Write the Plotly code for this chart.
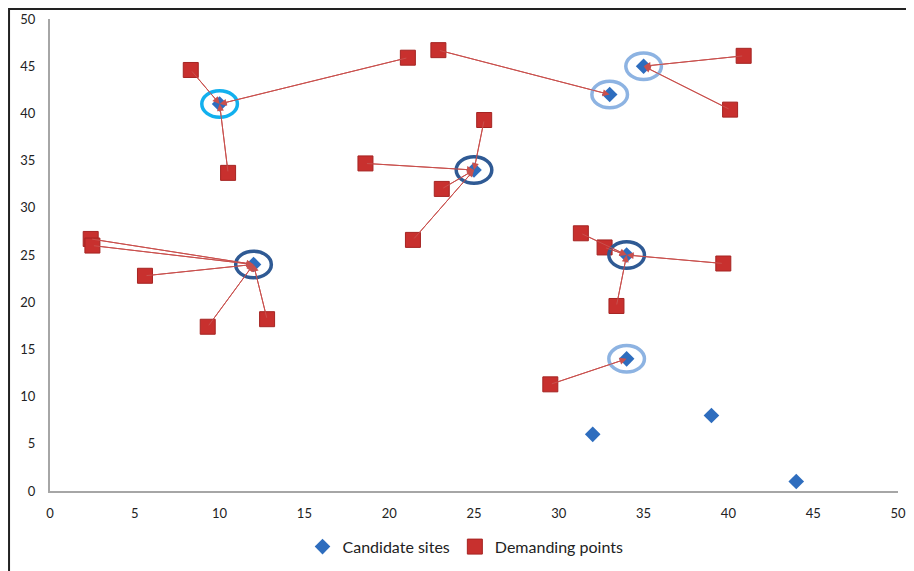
import plotly.graph_objects as go

# Candidate sites
cand_x = [10, 33, 35, 25, 12, 34, 34, 32, 39, 44]
cand_y = [41, 42, 45, 34, 24, 25, 14, 6, 8, 1]

# Demanding points
dem_x = [8.3, 21.1, 10.5, 22.9, 40.9, 40.1, 18.6, 23.1, 21.4, 25.6,
         2.4, 2.5, 5.6, 9.3, 12.8, 31.3, 32.7, 39.7, 33.4, 29.5]
dem_y = [44.6, 45.9, 33.7, 46.7, 46.1, 40.4, 34.7, 32.0, 26.6, 39.3,
         26.7, 26.0, 22.8, 17.4, 18.2, 27.3, 25.8, 24.1, 19.6, 11.3]
# index of candidate site serving each demanding point
assign = [0, 0, 0, 1, 2, 2, 3, 3, 3, 3,
          4, 4, 4, 4, 4, 5, 5, 5, 5, 6]

# selected sites and ring type
selected = [0, 1, 2, 3, 4, 5, 6]
ring_type = ["cyan", "light", "light", "dark", "dark", "dark", "light"]
ring_colors = {"cyan": "#12B0EE", "light": "#8DB3E2", "dark": "#2F5A94"}

x_ticks = [0, 5, 10, 15, 20, 25, 30, 35, 40, 45, 50]
y_ticks = [0, 5, 10, 15, 20, 25, 30, 35, 40, 45, 50]

fig = go.Figure()

# connection lines
lx, ly = [], []
for i, a in enumerate(assign):
    lx += [dem_x[i], cand_x[a], None]
    ly += [dem_y[i], cand_y[a], None]
fig.add_trace(go.Scatter(x=lx, y=ly, mode="lines",
                         line=dict(color="#C9504D", width=1),
                         showlegend=False, hoverinfo="skip"))

fig.add_trace(go.Scatter(x=cand_x, y=cand_y, mode="markers", name="Candidate sites",
                         marker=dict(symbol="diamond", size=12, color="#2E6DBE",
                                     line=dict(width=0))))
fig.add_trace(go.Scatter(x=dem_x, y=dem_y, mode="markers", name="Demanding points",
                         marker=dict(symbol="square", size=15, color="#C8302E",
                                     line=dict(width=1, color="#A52422"))))

annotations = []
for i, a in enumerate(assign):
    annotations.append(dict(x=cand_x[a], y=cand_y[a], ax=dem_x[i], ay=dem_y[i],
                            xref="x", yref="y", axref="x", ayref="y",
                            showarrow=True, arrowhead=2, arrowsize=1.4,
                            arrowwidth=1, arrowcolor="#C9504D", text=""))

shapes = []
for s, t in zip(selected, ring_type):
    shapes.append(dict(type="circle", xref="x", yref="y",
                       x0=cand_x[s] - 1.05, x1=cand_x[s] + 1.05,
                       y0=cand_y[s] - 1.4, y1=cand_y[s] + 1.4,
                       line=dict(color=ring_colors[t], width=3.5)))
# outer frame
shapes.append(dict(type="rect", xref="paper", yref="paper",
                   x0=-0.0483, x1=1.2, y0=-0.4, y1=1.0212,
                   line=dict(color="#222222", width=2), layer="below"))

fig.update_layout(
    width=906, height=563,
    margin=dict(l=42, r=16, t=11, b=80, autoexpand=False),
    paper_bgcolor="white", plot_bgcolor="white",
    font=dict(family="Lato, Open Sans, sans-serif", size=13, color="#222222"),
    xaxis=dict(range=[0, 50], tickvals=x_ticks, showgrid=False, zeroline=False,
               showline=True, linecolor="#A6A6A6", linewidth=2, ticks="",
               ticklabelstandoff=9, automargin=False, fixedrange=True),
    yaxis=dict(range=[0, 50], tickvals=y_ticks, showgrid=False, zeroline=False,
               showline=True, linecolor="#A6A6A6", linewidth=2, ticks="",
               ticklabelstandoff=10, automargin=False, fixedrange=True),
    legend=dict(orientation="h", x=0.49, xanchor="center", y=-0.082, yanchor="top",
                font=dict(size=16, color="#222222")),
    shapes=shapes,
    annotations=annotations,
)

fig.write_html("out.html")
